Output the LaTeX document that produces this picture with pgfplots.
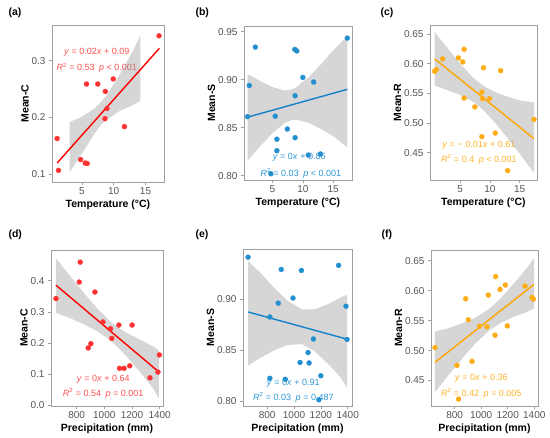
\documentclass[border=0pt]{standalone}
\usepackage{fontspec}
\setmainfont{Liberation Sans}
\usepackage{pgfplots}
\pgfplotsset{compat=1.18}
\definecolor{myred}{RGB}{255,0,0}
\definecolor{ptred}{RGB}{255,50,50}
\definecolor{txtred}{RGB}{255,80,80}
\definecolor{myblue}{RGB}{20,130,200}
\definecolor{ptblue}{RGB}{35,143,207}
\definecolor{txtblue}{RGB}{45,150,215}
\definecolor{myorange}{RGB}{255,165,0}
\definecolor{ptorange}{RGB}{255,172,20}
\definecolor{txtorange}{RGB}{255,180,40}
\definecolor{bandgray}{RGB}{153,153,153}
\definecolor{framegray}{RGB}{160,160,160}
\definecolor{tickgray}{RGB}{85,85,85}
\tikzset{anno/.style={font=\fontsize{9}{11}\selectfont, text=#1}}
\pgfplotsset{
 panel/.style={
  scale only axis, anchor=south west,
  axis line style={draw=framegray, line width=0.9pt},
  tick align=outside, tick pos=left,
  major tick length=3pt,
  tick style={draw=framegray, line width=0.7pt},
  ticklabel style={font=\fontsize{10}{12}\selectfont, text=tickgray},
  xticklabel style={yshift=1pt},
  label style={font=\bfseries\fontsize{10.5}{12}\selectfont, text=black},
  xlabel style={yshift=2pt},
  ylabel style={yshift=-4pt},
  /pgf/number format/assume math mode=true,
 },
 pts/.style={only marks, color=#1, mark=*, mark size=2.5pt, mark options={draw=#1, line width=0.3pt, fill=#1}},
 band/.style={draw=none, fill=bandgray, fill opacity=0.4},
 fitline/.style={draw=#1, line width=1.4pt, no marks},
}
\begin{document}
\begin{tikzpicture}
\useasboundingbox (0,0) rectangle (550pt,438pt);
% (a)
\begin{axis}[panel, at={(52pt,256pt)}, width=112pt, height=157pt,
  xmin=0.3, xmax=17.9, ymin=0.0865, ymax=0.363,
  xtick={5,10,15}, xticklabels={5,10,15},
  ytick={0.1,0.2,0.3}, yticklabels={0.1,0.2,0.3},
  xlabel={Temperature (°C)}, ylabel={Mean-C}]
\node[anno=txtred] at (axis cs:7.33,0.3147) {\textit{y} = 0.02\textit{x} + 0.09};
\node[anno=txtred] at (axis cs:7.33,0.2876) {\textit{R}\textsuperscript{2} = 0.53\enspace \textit{p} < 0.001};
\addplot[pts=ptred] table {
1.11 0.163
1.32 0.107
4.80 0.126
5.52 0.120
5.83 0.119
5.73 0.259
7.49 0.259
8.68 0.246
8.63 0.198
8.94 0.216
9.92 0.268
11.68 0.184
17.12 0.344
};
\addplot[band] coordinates {(3.08,0.192)(5,0.2015)(7,0.216)(8,0.227)(9,0.241)(11,0.277)(13,0.317)(14.2,0.345)
 (14.2,0.229)(13,0.222)(11,0.212)(9,0.197)(8,0.187)(7,0.172)(5,0.1365)(3.08,0.104)} -- cycle;
\addplot[fitline=myred] coordinates {(1.11,0.120)(17.18,0.322)};
\end{axis}
% (b)
\begin{axis}[panel, at={(244pt,258pt)}, width=108pt, height=154pt,
  xmin=0.3, xmax=18.1, ymin=0.7955, ymax=0.956,
  xtick={5,10,15}, xticklabels={5,10,15},
  ytick={0.80,0.85,0.90,0.95}, yticklabels={0.80,0.85,0.90,0.95},
  xlabel={Temperature (°C)}, ylabel={Mean-S}]
\node[anno=txtblue] at (axis cs:9.39,0.819) {\textit{y} = 0\textit{x} + 0.86};
\node[anno=txtblue] at (axis cs:9.67,0.8028) {\textit{R}\textsuperscript{2} = 0.03\enspace \textit{p} < 0.001};
\addplot[pts=ptblue] table {
0.89 0.8615
1.17 0.894
2.17 0.934
4.72 0.802
5.44 0.862
5.72 0.838
5.72 0.826
7.44 0.8486
8.72 0.8833
8.72 0.8396
8.67 0.9316
9.00 0.930
10.00 0.9024
10.90 0.8215
11.78 0.8976
12.90 0.8226
17.33 0.9434
};
\addplot[band] coordinates {(0.89,0.906)(3,0.8985)(5,0.8923)(7,0.8889)(8,0.8896)(9,0.8925)(11,0.9029)(13,0.9162)(15,0.9306)(17.33,0.9455)
 (17.33,0.8295)(15,0.8412)(13,0.8486)(11,0.8549)(9,0.8583)(8,0.8576)(7,0.8547)(5,0.8443)(3,0.8309)(0.89,0.8156)} -- cycle;
\addplot[fitline=myblue] coordinates {(0.89,0.861)(17.33,0.890)};
\end{axis}
% (c)
\begin{axis}[panel, at={(430pt,258pt)}, width=107pt, height=155pt,
  xmin=-0.05, xmax=17.9, ymin=0.404, ymax=0.665,
  xtick={5,10,15}, xticklabels={5,10,15},
  ytick={0.45,0.50,0.55,0.60,0.65}, yticklabels={0.45,0.50,0.55,0.60,0.65},
  xlabel={Temperature (°C)}, ylabel={Mean-R}]
\node[anno=txtorange] at (axis cs:8.15,0.463) {\textit{y} = − 0.01\textit{x} + 0.61};
\node[anno=txtorange] at (axis cs:8.15,0.4393) {\textit{R}\textsuperscript{2} = 0.4\enspace \textit{p} < 0.001};
\addplot[pts=ptorange] table {
0.73 0.587
1.01 0.590
2.08 0.608
4.72 0.6096
5.45 0.6028
5.67 0.624
5.67 0.542
7.47 0.527
8.65 0.552
8.76 0.541
8.93 0.593
8.65 0.477
9.94 0.541
10.90 0.483
11.80 0.588
12.98 0.4197
17.40 0.506
};
\addplot[band] coordinates {(0.73,0.653)(3,0.6247)(5,0.600)(7,0.5783)(8,0.5694)(9,0.5621)(11,0.5516)(13,0.5441)(15,0.5379)(17.4,0.5348)
 (17.4,0.4157)(15,0.4481)(13,0.4741)(11,0.4988)(9,0.5205)(8,0.5294)(7,0.5367)(5,0.5472)(3,0.5547)(0.73,0.563)} -- cycle;
\addplot[fitline=myorange] coordinates {(0.73,0.608)(17.4,0.4736)};
\end{axis}
% (d)
\begin{axis}[panel, at={(51pt,32pt)}, width=112pt, height=156pt,
  xmin=615, xmax=1424, ymin=-0.002, ymax=0.499,
  xtick={800,1000,1200,1400}, xticklabels={800,1000,1200,1400},
  ytick={0,0.1,0.2,0.3,0.4}, yticklabels={0.0,0.1,0.2,0.3,0.4},
  xlabel={Precipitation (mm)}, ylabel={Mean-C}]
\node[anno=txtred] at (axis cs:992,0.0853) {\textit{y} = 0\textit{x} + 0.64};
\node[anno=txtred] at (axis cs:992,0.0384) {\textit{R}\textsuperscript{2} = 0.54\enspace \textit{p} = 0.001};
\addplot[pts=ptred] table {
651 0.343
819 0.396
826 0.460
932 0.364
884 0.1845
903 0.198
990 0.268
1045 0.246
1054 0.215
1105 0.258
1110 0.119
1143 0.119
1201 0.258
1184 0.127
1330 0.0885
1388 0.107
1398 0.162
};
\addplot[band] coordinates {(651,0.4725)(750,0.4174)(850,0.3624)(950,0.3105)(1050,0.2668)(1150,0.2357)(1250,0.2128)(1350,0.190)(1395,0.176)
 (1395,0.0224)(1350,0.0562)(1250,0.1112)(1150,0.1631)(1050,0.2068)(950,0.2379)(850,0.2608)(750,0.2806)(651,0.2965)} -- cycle;
\addplot[fitline=myred] coordinates {(651,0.386)(1395,0.107)};
\end{axis}
% (e)
\begin{axis}[panel, at={(243pt,32pt)}, width=109pt, height=157pt,
  xmin=620, xmax=1432, ymin=0.7954, ymax=0.949,
  xtick={800,1000,1200,1400}, xticklabels={800,1000,1200,1400},
  ytick={0.80,0.85,0.90}, yticklabels={0.80,0.85,0.90},
  xlabel={Precipitation (mm)}, ylabel={Mean-S}]
\node[anno=txtblue] at (axis cs:995,0.818) {\textit{y} = 0\textit{x} + 0.91};
\node[anno=txtblue] at (axis cs:995,0.8038) {\textit{R}\textsuperscript{2} = 0.03\enspace \textit{p} = 0.487};
\addplot[pts=ptblue] table {
657.5 0.941
820 0.8225
820 0.8825
882.5 0.896
905 0.929
935 0.8215
992.5 0.901
1045 0.838
1055 0.928
1105 0.8477
1112.5 0.8375
1145 0.861
1185 0.8015
1200 0.825
1332.5 0.933
1387.5 0.893
1395 0.8605
};
\addplot[band] coordinates {(657.5,0.9372)(750,0.9257)(850,0.9113)(950,0.8985)(1060,0.8899)(1150,0.8899)(1250,0.8948)(1350,0.9018)(1395,0.9041)
 (1395,0.8136)(1350,0.823)(1250,0.8372)(1150,0.8493)(1060,0.8559)(950,0.8551)(850,0.8497)(750,0.8425)(657.5,0.8349)} -- cycle;
\addplot[fitline=myblue] coordinates {(657.5,0.8874)(1395,0.8608)};
\end{axis}
% (f)
\begin{axis}[panel, at={(431pt,32pt)}, width=107pt, height=156pt,
  xmin=622, xmax=1428, ymin=0.4075, ymax=0.668,
  xtick={800,1000,1200,1400}, xticklabels={800,1000,1200,1400},
  ytick={0.45,0.50,0.55,0.60,0.65}, yticklabels={0.45,0.50,0.55,0.60,0.65},
  xlabel={Precipitation (mm)}, ylabel={Mean-R}]
\node[anno=txtorange] at (axis cs:1001,0.4542) {\textit{y} = 0\textit{x} + 0.36};
\node[anno=txtorange] at (axis cs:1001,0.428) {\textit{R}\textsuperscript{2} = 0.42\enspace \textit{p} = 0.005};
\addplot[pts=ptorange] table {
652 0.505
818 0.4754
830 0.419
883 0.5866
903 0.5514
931 0.482
988 0.5408
1044 0.5397
1054 0.5927
1104 0.5257
1109 0.6235
1142 0.6022
1182 0.6095
1197 0.5413
1330 0.6078
1383 0.5888
1393 0.586
};
\addplot[band] coordinates {(652,0.5318)(750,0.5372)(850,0.545)(950,0.5543)(1060,0.5696)(1150,0.588)(1250,0.6129)(1350,0.6397)(1398,0.6547)
 (1398,0.571)(1350,0.5647)(1250,0.5567)(1150,0.5466)(1060,0.5336)(950,0.5105)(850,0.485)(750,0.4578)(652,0.4302)} -- cycle;
\addplot[fitline=myorange] coordinates {(652,0.4804)(1398,0.6106)};
\end{axis}
% panel tags
\node[anchor=west, font=\bfseries\fontsize{10.5}{12}\selectfont] at (5pt,425pt) {(a)};
\node[anchor=west, font=\bfseries\fontsize{10.5}{12}\selectfont] at (192pt,425pt) {(b)};
\node[anchor=west, font=\bfseries\fontsize{10.5}{12}\selectfont] at (377pt,425pt) {(c)};
\node[anchor=west, font=\bfseries\fontsize{10.5}{12}\selectfont] at (5pt,203pt) {(d)};
\node[anchor=west, font=\bfseries\fontsize{10.5}{12}\selectfont] at (192pt,203pt) {(e)};
\node[anchor=west, font=\bfseries\fontsize{10.5}{12}\selectfont] at (378pt,203pt) {(f)};
\end{tikzpicture}
\end{document}
